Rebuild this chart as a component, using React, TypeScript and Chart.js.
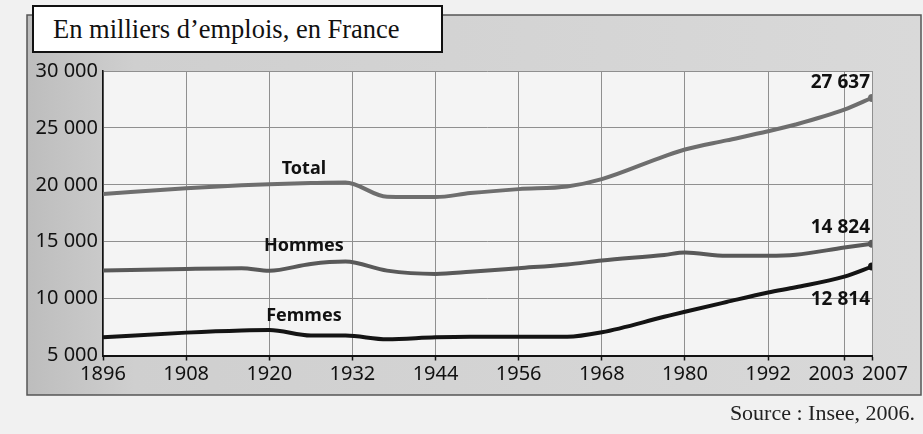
import React, { useEffect, useRef } from "react";
import { Chart, registerables } from "chart.js";

Chart.register(...registerables);

// ---- Data (milliers d'emplois, France) ----
const years = [1896, 1908, 1916, 1920, 1926, 1931, 1937, 1944, 1949, 1956, 1963, 1968, 1977, 1980, 1986, 1992, 1996, 2003, 2007];
const totalValues = [19200, 19700, 19950, 20050, 20150, 20200, 18950, 18920, 19270, 19620, 19850, 20500, 22500, 23100, 23900, 24700, 25300, 26600, 27637];
const hommesValues = [12460, 12610, 12670, 12450, 13050, 13250, 12460, 12170, 12350, 12670, 13000, 13340, 13840, 14050, 13760, 13760, 13850, 14490, 14824];
const femmesValues = [6600, 7010, 7200, 7240, 6750, 6750, 6430, 6600, 6650, 6650, 6650, 7040, 8400, 8850, 9700, 10530, 11000, 11930, 12814];
const seriesNames = ["Total", "Hommes", "Femmes"];
const xTickYears = [1896, 1908, 1920, 1932, 1944, 1956, 1968, 1980, 1992, 2003, 2007];
const yTickValues = [5000, 10000, 15000, 20000, 25000, 30000];
const titleText = "En milliers d\u2019emplois, en France";
const sourceText = "Source : Insee, 2006.";

const fmt = (v: number) => String(v).replace(/\B(?=(\d{3})+(?!\d))/g, " ");

function valueAt(vals: number[], year: number) {
  for (let i = 0; i < years.length - 1; i++) {
    if (year >= years[i] && year <= years[i + 1]) {
      const t = (year - years[i]) / (years[i + 1] - years[i]);
      return vals[i] + t * (vals[i + 1] - vals[i]);
    }
  }
  return vals[vals.length - 1];
}

const bgPlugin = {
  id: "bgPlugin",
  beforeDraw(chart: any) {
    const { ctx, chartArea } = chart;
    ctx.save();
    ctx.fillStyle = "#f1f1f1";
    ctx.fillRect(0, 0, chart.width, chart.height);
    const g = ctx.createLinearGradient(27, 0, 921, 0);
    g.addColorStop(0, "#bdbdbd");
    g.addColorStop(0.12, "#cfcfcf");
    g.addColorStop(1, "#d9d9d9");
    ctx.fillStyle = g;
    ctx.fillRect(27, 15, 894, 380);
    ctx.strokeStyle = "#555";
    ctx.lineWidth = 1.5;
    ctx.strokeRect(27, 15, 894, 380);
    ctx.fillStyle = "#f4f4f4";
    ctx.fillRect(chartArea.left, chartArea.top, chartArea.right - chartArea.left, chartArea.bottom - chartArea.top);
    ctx.restore();
  },
};

const labelPlugin = {
  id: "labelPlugin",
  afterDatasetsDraw(chart: any) {
    const { ctx, chartArea } = chart;
    const xs = chart.scales.x;
    const ys = chart.scales.y;
    const all = [totalValues, hommesValues, femmesValues];
    const nameOffsets = [-14, -19, -19];
    ctx.save();
    ctx.fillStyle = "#111";
    ctx.textAlign = "center";
    ctx.textBaseline = "middle";
    ctx.font = "bold 18px 'Noto Sans'";
    seriesNames.forEach((n, i) => {
      const yr = 1925;
      ctx.fillText(n, xs.getPixelForValue(yr), ys.getPixelForValue(valueAt(all[i], yr)) + nameOffsets[i]);
    });
    ctx.textAlign = "right";
    ctx.font = "bold 19px 'Noto Sans'";
    const endOffsets = [-15, -16, 33];
    all.forEach((vals, i) => {
      const last = vals[vals.length - 1];
      ctx.fillText(fmt(last), chartArea.right - 2, ys.getPixelForValue(last) + endOffsets[i]);
    });
    ctx.restore();
  },
};

export default function App() {
  const ref = useRef<HTMLCanvasElement | null>(null);
  useEffect(() => {
    if (!ref.current) return;
    const lastIdx = years.length - 1;
    const mk = (label: string, vals: number[], color: string) => ({
      label,
      data: years.map((y, i) => ({ x: y, y: vals[i] })),
      borderColor: color,
      backgroundColor: color,
      borderWidth: 4,
      cubicInterpolationMode: "monotone" as const,
      pointRadius: (c: any) => (c.dataIndex === lastIdx ? 4 : 0),
      pointBorderWidth: 0,
      pointBackgroundColor: color,
      fill: false,
    });
    const chart = new Chart(ref.current, {
      type: "line",
      data: {
        datasets: [
          mk(seriesNames[0], totalValues, "#6e6e6e"),
          mk(seriesNames[1], hommesValues, "#595959"),
          mk(seriesNames[2], femmesValues, "#141414"),
        ],
      },
      options: {
        responsive: false,
        animation: false,
        devicePixelRatio: 1,
        layout: { padding: { left: 0, top: 71, right: 51, bottom: 0 } },
        plugins: { legend: { display: false }, tooltip: { enabled: false } },
        scales: {
          x: {
            type: "linear",
            min: 1896,
            max: 2007,
            afterBuildTicks: (s: any) => {
              s.ticks = xTickYears.map((value) => ({ value }));
            },
            afterFit: (s: any) => {
              s.height = 78.5;
            },
            ticks: {
              autoSkip: false,
              maxRotation: 0,
              padding: 2,
              color: "#111",
              font: { family: "'Noto Sans'", size: 20 },
              // the last two labels are pushed apart (as in the original) so they don't overlap
              callback: (v: any) => {
                const s = String(v);
                if (v === 2003) return s + "\u00a0\u00a0\u00a0\u00a0\u00a0";
                if (v === 2007) return "\u00a0\u00a0\u00a0\u00a0\u00a0" + s;
                return s;
              },
            },
            grid: { color: "#8f8f8f", lineWidth: 1, tickLength: 5, tickColor: "#111", tickWidth: 1.5 },
            border: { color: "#111", width: 2 },
          },
          y: {
            min: 5000,
            max: 30000,
            afterBuildTicks: (s: any) => {
              s.ticks = yTickValues.map((value) => ({ value }));
            },
            afterFit: (s: any) => {
              s.width = 103;
            },
            ticks: {
              padding: 5,
              color: "#111",
              font: { family: "'Noto Sans'", size: 20 },
              callback: (v: any) => fmt(Number(v)),
            },
            grid: { color: "#8f8f8f", lineWidth: 1, drawTicks: false },
            border: { color: "#111", width: 1.5 },
          },
        },
      },
      plugins: [bgPlugin, labelPlugin],
    });
    return () => chart.destroy();
  }, []);

  return (
    <div style={{ position: "absolute", left: 0, top: 0, width: 923, height: 434 }}>
      <canvas ref={ref} width={923} height={434} style={{ display: "block", width: 923, height: 434 }} />
      <div
        style={{
          position: "absolute",
          left: 32,
          top: 5,
          width: 388,
          height: 44,
          background: "#fff",
          border: "2px solid #111",
          fontFamily: "'Liberation Serif', 'Times New Roman', serif",
          fontSize: 26.5,
          lineHeight: "44px",
          paddingLeft: 19,
          boxSizing: "content-box",
          color: "#111",
          whiteSpace: "nowrap",
        }}
      >
        {titleText}
      </div>
      <div
        style={{
          position: "absolute",
          right: 8,
          top: 400,
          fontFamily: "'Liberation Serif', 'Times New Roman', serif",
          fontSize: 22,
          color: "#222",
          whiteSpace: "nowrap",
        }}
      >
        {sourceText}
      </div>
    </div>
  );
}
